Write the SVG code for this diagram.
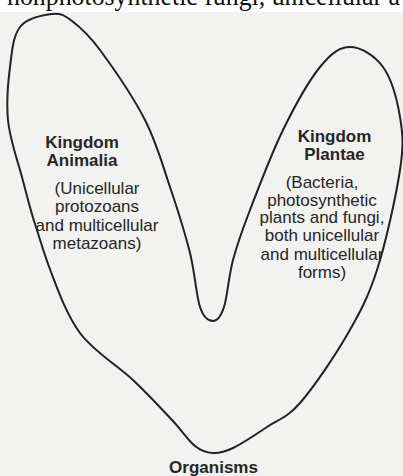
<svg xmlns="http://www.w3.org/2000/svg" width="403" height="476" viewBox="0 0 403 476">
<style>
.bg{fill:#f2f2f0}
.outline{fill:none;stroke:#222;stroke-width:2;stroke-linejoin:round}
.t{font-family:"Liberation Sans",Arial,sans-serif;font-size:17px;fill:#262626;text-anchor:middle}
.b{font-weight:bold}
.top{font-family:"Liberation Serif","Times New Roman",serif;font-size:27px;fill:#111}
</style>
<rect x="0" y="0" width="403" height="476" fill="#fff"/>
<rect class="bg" x="0" y="12" width="403" height="464"/>
<text class="top" x="7" y="5" textLength="393" lengthAdjust="spacingAndGlyphs">nonphotosynthetic fungi, unicellular a</text>
<g id="connectors">
<path id="outline" class="outline" d="M213,453 C206.67,452.67 201.83,451.5 195,446 C188.17,440.5 182.33,431 172,420 C161.67,409 148.33,394.5 133,380 C117.67,365.5 93.33,351.33 80,333 C66.67,314.67 58.17,290.83 51,272 C43.83,253.17 40.5,240.67 35,224 C29.5,207.33 24.83,186.67 20,170 C15.17,153.33 9.67,137.17 8,120 C6.33,102.83 8,82.5 10,67 C12,51.5 13,35.83 20,27 C27,18.17 43.33,15 52,14 C60.67,13 64,15 72,21 C80,27 87.83,33.5 100,50 C112.17,66.5 133.33,97.17 145,120 C156.67,142.83 162.5,164.83 170,187 C177.5,209.17 185,233 190,253 C195,273 196.17,295.67 200,307 C203.83,318.33 209,321 213,321 C217,321 220.67,317.17 224,307 C227.33,296.83 228.67,276.17 233,260 C237.33,243.83 241.67,231.67 250,210 C258.33,188.33 271.33,153.83 283,130 C294.67,106.17 308.83,80.83 320,67 C331.17,53.17 339.5,47 350,47 C360.5,47 374.67,55.33 383,67 C391.33,78.67 397.17,99.83 400,117 C402.83,134.17 403.83,144.5 400,170 C396.17,195.5 385.83,242.5 377,270 C368.17,297.5 359.83,312.83 347,335 C334.17,357.17 313.33,387.67 300,403 C286.67,418.33 278.17,419.5 267,427 C255.83,434.5 242,443.67 233,448 C224,452.33 219.33,453.33 213,453 Z"/>
</g>
<g id="animalia">
<text class="t b" x="82" y="147.5">Kingdom</text>
<text class="t b" x="82" y="166">Animalia</text>
<text class="t" x="97" y="194">(Unicellular</text>
<text class="t" x="97" y="212">protozoans</text>
<text class="t" x="97" y="230.5">and multicellular</text>
<text class="t" x="97" y="248.5">metazoans)</text>
</g>
<g id="plantae">
<text class="t b" x="334.5" y="142">Kingdom</text>
<text class="t b" x="334.5" y="160">Plantae</text>
<text class="t" x="322" y="187.5">(Bacteria,</text>
<text class="t" x="322" y="205.5">photosynthetic</text>
<text class="t" x="322" y="223">plants and fungi,</text>
<text class="t" x="322" y="241">both unicellular</text>
<text class="t" x="322" y="259.5">and multicellular</text>
<text class="t" x="322" y="277.5">forms)</text>
</g>
<g id="organisms">
<text class="t b" x="213.5" y="473">Organisms</text>
</g>
</svg>
